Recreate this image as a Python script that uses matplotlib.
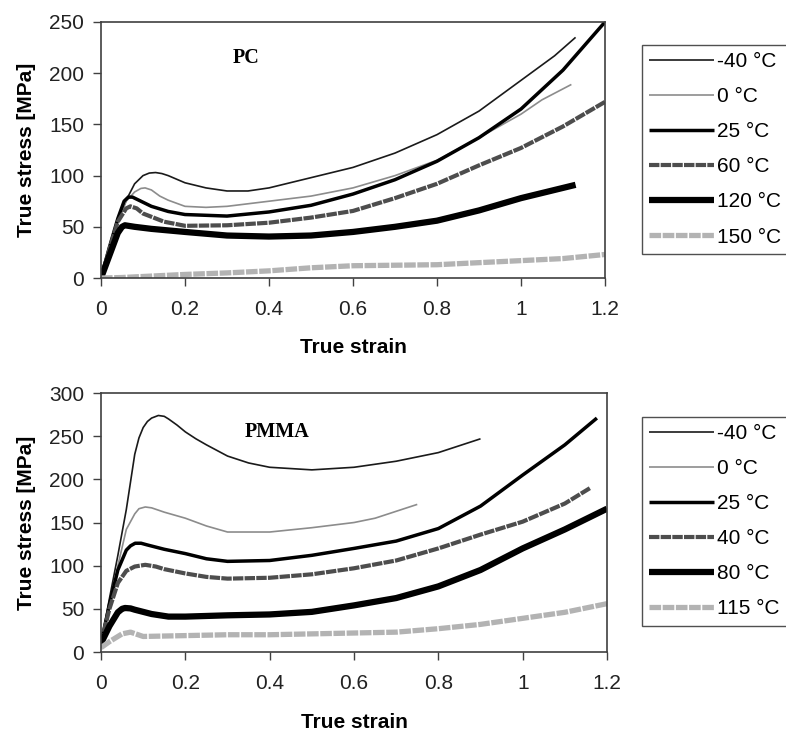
import matplotlib
matplotlib.use("Agg")
import matplotlib.pyplot as plt
from matplotlib.ticker import FuncFormatter, MultipleLocator

plt.rcParams["font.family"] = ["Liberation Sans", "DejaVu Sans"]

# ---- PC data (true strain, true stress MPa) ----
pc_labels = ["-40 °C", "0 °C", "25 °C", "60 °C", "120 °C", "150 °C"]

pc_m40_x = [0, 0.02, 0.04, 0.06, 0.08, 0.10, 0.115, 0.13, 0.145, 0.16, 0.20, 0.25, 0.30,
            0.35, 0.40, 0.50, 0.60, 0.70, 0.80, 0.90, 1.00, 1.08, 1.13]
pc_m40_y = [0, 28, 55, 76, 92, 100, 102.5, 103, 102, 100, 93, 88, 85,
            85, 88, 98, 108, 122, 140, 163, 193, 217, 235]

pc_0_x = [0, 0.02, 0.04, 0.06, 0.08, 0.095, 0.105, 0.12, 0.14, 0.16, 0.20, 0.25, 0.30,
          0.40, 0.50, 0.60, 0.70, 0.80, 0.90, 1.00, 1.05, 1.12]
pc_0_y = [0, 28, 55, 75, 84, 87.5, 88, 86, 80, 76, 70, 69, 70,
          75, 80, 88, 100, 115, 137, 160, 174, 189]

pc_25_x = [0, 0.02, 0.04, 0.055, 0.065, 0.075, 0.09, 0.12, 0.16, 0.20, 0.30, 0.40, 0.50,
           0.60, 0.70, 0.80, 0.90, 1.00, 1.10, 1.20]
pc_25_y = [0, 30, 58, 75, 79, 79, 76, 70, 65, 62, 60.5, 64.5, 71,
           82, 96, 114, 137, 165, 203, 250]

pc_60_x = [0, 0.02, 0.04, 0.06, 0.07, 0.085, 0.10, 0.15, 0.20, 0.30, 0.40, 0.50, 0.60,
           0.70, 0.80, 0.90, 1.00, 1.10, 1.20]
pc_60_y = [0, 28, 55, 68, 70, 68, 63, 55, 51, 51.5, 54, 59, 65.5,
           78, 92, 110, 127, 148, 172]

pc_120_x = [0, 0.02, 0.04, 0.05, 0.057, 0.08, 0.12, 0.20, 0.30, 0.40, 0.50, 0.60, 0.70,
            0.80, 0.90, 1.00, 1.13]
pc_120_y = [0, 22, 44, 50, 51.5, 50, 48, 45, 41.5, 40.5, 41.5, 45, 50,
            56, 66, 78, 91]

pc_150_x = [0, 0.05, 0.10, 0.20, 0.30, 0.40, 0.50, 0.60, 0.70, 0.80, 0.90, 1.00, 1.10, 1.20]
pc_150_y = [0, 0.5, 1.5, 3.5, 5, 7, 10, 12, 12.5, 13, 15, 17, 19, 23]

# ---- PMMA data ----
pmma_labels = ["-40 °C", "0 °C", "25 °C", "40 °C", "80 °C", "115 °C"]

pmma_m40_x = [0, 0.02, 0.04, 0.06, 0.08, 0.09, 0.10, 0.11, 0.12, 0.136, 0.15, 0.16, 0.18,
              0.20, 0.225, 0.25, 0.30, 0.35, 0.40, 0.50, 0.60, 0.70, 0.80, 0.90]
pmma_m40_y = [10, 62, 112, 165, 229, 248, 260, 267, 271, 274, 273, 270, 263,
              255, 247, 240, 227, 219, 214, 211, 214, 221, 231, 247]

pmma_0_x = [0, 0.02, 0.04, 0.06, 0.08, 0.09, 0.105, 0.12, 0.15, 0.20, 0.25, 0.30, 0.40,
            0.50, 0.60, 0.65, 0.75]
pmma_0_y = [10, 55, 100, 142, 160, 166, 168, 167, 162, 155, 146, 139, 139,
            144, 150, 155, 171]

pmma_25_x = [0, 0.02, 0.04, 0.06, 0.07, 0.081, 0.095, 0.11, 0.15, 0.20, 0.25, 0.30, 0.40,
             0.50, 0.60, 0.70, 0.80, 0.90, 1.00, 1.10, 1.176]
pmma_25_y = [10, 55, 95, 118, 123, 126, 126, 124, 119, 114, 108, 105, 106,
             112, 120, 128.5, 143, 169, 205, 240, 271]

pmma_40_x = [0, 0.02, 0.04, 0.06, 0.08, 0.105, 0.13, 0.15, 0.20, 0.25, 0.30, 0.40, 0.50,
             0.60, 0.70, 0.80, 0.90, 1.00, 1.10, 1.16]
pmma_40_y = [10, 50, 80, 94, 99, 101, 99, 96, 91, 87, 85, 86, 90,
             97, 106, 120, 136, 151, 172, 190]

pmma_80_x = [0, 0.02, 0.04, 0.05, 0.057, 0.07, 0.08, 0.12, 0.16, 0.20, 0.30, 0.40, 0.50,
             0.60, 0.70, 0.80, 0.90, 1.00, 1.10, 1.20]
pmma_80_y = [10, 30, 46, 50, 51, 50.5, 49, 44, 41, 41, 42.5, 43.5, 46.5,
             54, 62.5, 76, 95, 120, 142, 166]

pmma_115_x = [0, 0.02, 0.05, 0.07, 0.10, 0.20, 0.30, 0.40, 0.50, 0.60, 0.70, 0.80, 0.90,
              1.00, 1.10, 1.20]
pmma_115_y = [5, 12, 21, 23, 18, 19, 20, 20, 21, 22, 23, 27, 32,
              39, 46, 56]

# line look per series position (same order in both panels)
styles = [
    dict(color="#1a1a1a", lw=1.2, ls="-"),
    dict(color="#8c8c8c", lw=1.2, ls="-"),
    dict(color="black", lw=2.5, ls="-"),
    dict(color="#4d4d4d", lw=3.0, ls=(0, (2.5, 0.3))),
    dict(color="black", lw=4.5, ls="-"),
    dict(color="#b3b3b3", lw=3.8, ls=(0, (2.2, 0.3))),
]

fig = plt.figure(figsize=(7.86, 7.33), dpi=100)
ax1 = fig.add_axes([0.1285, 0.6207, 0.6412, 0.3493])
ax2 = fig.add_axes([0.1285, 0.1105, 0.6438, 0.3533])

pc_series = [(pc_m40_x, pc_m40_y), (pc_0_x, pc_0_y), (pc_25_x, pc_25_y),
             (pc_60_x, pc_60_y), (pc_120_x, pc_120_y), (pc_150_x, pc_150_y)]
pmma_series = [(pmma_m40_x, pmma_m40_y), (pmma_0_x, pmma_0_y), (pmma_25_x, pmma_25_y),
               (pmma_40_x, pmma_40_y), (pmma_80_x, pmma_80_y), (pmma_115_x, pmma_115_y)]

for ax, series, labels, ymax, title, tpos, leg_top in [
    (ax1, pc_series, pc_labels, 250, "PC", (0.345, 215), 45),
    (ax2, pmma_series, pmma_labels, 300, "PMMA", (0.418, 255), 417),
]:
    for (x, y), lab, st in zip(series, labels, styles):
        ax.plot(x, y, color=st["color"], lw=st["lw"], linestyle=st["ls"],
                label=lab, solid_capstyle="butt", dash_capstyle="butt",
                solid_joinstyle="round")

    ax.set_xlim(0, 1.2)
    ax.set_ylim(0, ymax)
    ax.xaxis.set_major_locator(MultipleLocator(0.2))
    ax.yaxis.set_major_locator(MultipleLocator(50))
    ax.xaxis.set_major_formatter(FuncFormatter(lambda v, p: f"{v:g}"))
    ax.tick_params(direction="out", length=6, width=1, colors="#404040",
                   labelcolor="#222222", labelsize=15)
    ax.tick_params(axis="x", pad=10)
    ax.tick_params(axis="y", pad=6)
    for sp in ax.spines.values():
        sp.set_color("#404040")
        sp.set_linewidth(1.2)

    ax.set_xlabel("True strain", fontsize=15, fontweight="bold", va="center")
    ax.set_ylabel("True stress [MPa]", fontsize=15, fontweight="bold", va="center")
    ax.xaxis.set_label_coords(0.5, -0.273)
    ax.yaxis.set_label_coords(-0.147, 0.5)

    ax.text(tpos[0], tpos[1], title, family=["Liberation Serif", "DejaVu Serif"],
            fontweight="bold", fontsize=14.5, ha="center", va="center")

    leg = ax.legend(loc="upper left", bbox_to_anchor=(642 / 786, 1 - leg_top / 733),
                    bbox_transform=fig.transFigure, borderaxespad=0, fontsize=15,
                    handlelength=3.1, handletextpad=0.15, labelspacing=0.77,
                    borderpad=0.35, fancybox=False, framealpha=1)
    leg.get_frame().set_edgecolor("#505050")
    leg.get_frame().set_linewidth(1.0)

fig.savefig("out.png", dpi=100)
